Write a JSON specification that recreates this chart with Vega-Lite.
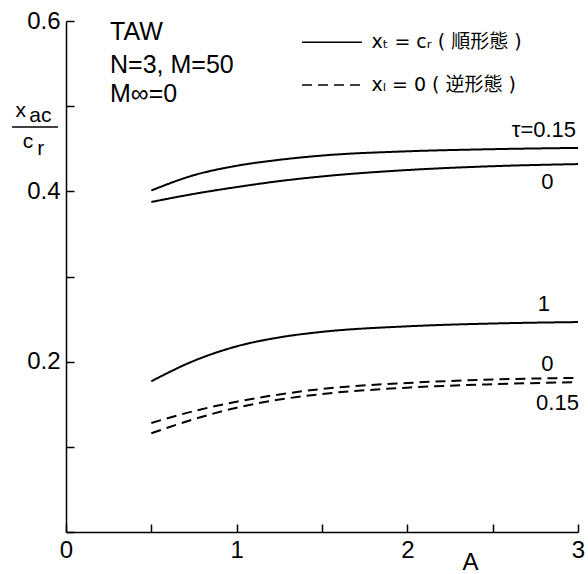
{
  "$schema": "https://vega.github.io/schema/vega-lite/v6.json",
  "width": 512,
  "height": 511,
  "autosize": "none",
  "padding": {"left": 66, "top": 21, "right": 10, "bottom": 42},
  "background": "white",
  "config": {
    "view": {"stroke": null},
    "font": "Liberation Sans",
    "axis": {"grid": false, "domainColor": "black", "tickColor": "black", "labelColor": "black", "domainWidth": 1.5, "tickWidth": 1.5}
  },
  "datasets": {
    "curves": [
      {"A": 0.5, "v": 0.401, "series": "s015", "kind": "順形態"},
      {"A": 0.75, "v": 0.419, "series": "s015", "kind": "順形態"},
      {"A": 1.0, "v": 0.430, "series": "s015", "kind": "順形態"},
      {"A": 1.25, "v": 0.437, "series": "s015", "kind": "順形態"},
      {"A": 1.5, "v": 0.442, "series": "s015", "kind": "順形態"},
      {"A": 2.0, "v": 0.447, "series": "s015", "kind": "順形態"},
      {"A": 2.5, "v": 0.4495, "series": "s015", "kind": "順形態"},
      {"A": 3.0, "v": 0.451, "series": "s015", "kind": "順形態"},
      {"A": 0.5, "v": 0.3875, "series": "s0", "kind": "順形態"},
      {"A": 0.75, "v": 0.397, "series": "s0", "kind": "順形態"},
      {"A": 1.0, "v": 0.405, "series": "s0", "kind": "順形態"},
      {"A": 1.25, "v": 0.412, "series": "s0", "kind": "順形態"},
      {"A": 1.5, "v": 0.4175, "series": "s0", "kind": "順形態"},
      {"A": 2.0, "v": 0.425, "series": "s0", "kind": "順形態"},
      {"A": 2.5, "v": 0.4295, "series": "s0", "kind": "順形態"},
      {"A": 3.0, "v": 0.432, "series": "s0", "kind": "順形態"},
      {"A": 0.5, "v": 0.177, "series": "s1", "kind": "順形態"},
      {"A": 0.75, "v": 0.201, "series": "s1", "kind": "順形態"},
      {"A": 1.0, "v": 0.218, "series": "s1", "kind": "順形態"},
      {"A": 1.25, "v": 0.2285, "series": "s1", "kind": "順形態"},
      {"A": 1.5, "v": 0.235, "series": "s1", "kind": "順形態"},
      {"A": 2.0, "v": 0.2415, "series": "s1", "kind": "順形態"},
      {"A": 2.5, "v": 0.2448, "series": "s1", "kind": "順形態"},
      {"A": 3.0, "v": 0.2465, "series": "s1", "kind": "順形態"},
      {"A": 0.5, "v": 0.128, "series": "d0", "kind": "逆形態"},
      {"A": 0.75, "v": 0.142, "series": "d0", "kind": "逆形態"},
      {"A": 1.0, "v": 0.153, "series": "d0", "kind": "逆形態"},
      {"A": 1.25, "v": 0.1615, "series": "d0", "kind": "逆形態"},
      {"A": 1.5, "v": 0.168, "series": "d0", "kind": "逆形態"},
      {"A": 2.0, "v": 0.175, "series": "d0", "kind": "逆形態"},
      {"A": 2.5, "v": 0.179, "series": "d0", "kind": "逆形態"},
      {"A": 3.0, "v": 0.181, "series": "d0", "kind": "逆形態"},
      {"A": 0.5, "v": 0.116, "series": "d015", "kind": "逆形態"},
      {"A": 0.75, "v": 0.1325, "series": "d015", "kind": "逆形態"},
      {"A": 1.0, "v": 0.146, "series": "d015", "kind": "逆形態"},
      {"A": 1.25, "v": 0.1555, "series": "d015", "kind": "逆形態"},
      {"A": 1.5, "v": 0.162, "series": "d015", "kind": "逆形態"},
      {"A": 2.0, "v": 0.1695, "series": "d015", "kind": "逆形態"},
      {"A": 2.5, "v": 0.1735, "series": "d015", "kind": "逆形態"},
      {"A": 3.0, "v": 0.176, "series": "d015", "kind": "逆形態"}
    ],
    "legendLines": [
      {"A": 1.383, "A2": 1.734, "v": 0.575, "kind": "順形態"},
      {"A": 1.383, "A2": 1.734, "v": 0.525, "kind": "逆形態"}
    ],
    "legendText": [
      {"A": 1.79, "v": 0.575, "text": "xₜ = cᵣ ( 順形態 )"},
      {"A": 1.79, "v": 0.525, "text": "xₗ = 0 ( 逆形態 )"}
    ],
    "notes": [
      {"A": 0.258, "v": 0.587, "text": "TAW"},
      {"A": 0.258, "v": 0.548, "text": "N=3, M=50"},
      {"A": 0.258, "v": 0.514, "text": "M∞=0"}
    ],
    "curveLabels": [
      {"A": 2.80, "v": 0.472, "text": "τ=0.15"},
      {"A": 2.82, "v": 0.411, "text": "0"},
      {"A": 2.80, "v": 0.268, "text": "1"},
      {"A": 2.82, "v": 0.197, "text": "0"},
      {"A": 2.88, "v": 0.152, "text": "0.15"}
    ],
    "axisTitleMain": [
      {"A": 2.37, "v": -0.036, "text": "A"}
    ],
    "axisTitleSub": [
      {"A": -0.265, "v": 0.494, "text": "x"},
      {"A": -0.15, "v": 0.488, "text": "ac"},
      {"A": -0.222, "v": 0.458, "text": "c"},
      {"A": -0.148, "v": 0.450, "text": "r"}
    ],
    "frac": [
      {"A": -0.316, "A2": -0.047, "v": 0.4755}
    ]
  },
  "layer": [
    {
      "data": {"name": "curves"},
      "mark": {"type": "line", "interpolate": "monotone", "strokeWidth": 2, "color": "black"},
      "encoding": {
        "x": {"field": "A", "type": "quantitative", "scale": {"domain": [0, 3], "nice": false},
          "axis": {"values": [0, 0.5, 1, 1.5, 2, 2.5, 3], "labelExpr": "datum.value % 1 == 0 ? format(datum.value, 'd') : ''", "title": null, "tickSize": -8, "labelPadding": 14, "labelFontSize": 24, "labelFont": "Liberation Sans", "labelOverlap": false, "labelBound": false, "labelFlush": false}},
        "y": {"field": "v", "type": "quantitative", "scale": {"domain": [0, 0.6], "nice": false},
          "axis": {"values": [0, 0.1, 0.2, 0.3, 0.4, 0.5, 0.6], "labelExpr": "(round(datum.value * 10) % 2 == 0 && datum.value > 0) ? format(datum.value, '.1f') : ''", "title": null, "tickSize": -8, "labelPadding": 14, "labelFontSize": 24, "labelFont": "Liberation Sans", "labelOverlap": false, "labelBound": false, "labelFlush": false}},
        "detail": {"field": "series"},
        "strokeDash": {"field": "kind", "type": "nominal", "scale": {"domain": ["順形態", "逆形態"], "range": [[1, 0], [10, 6]]}, "legend": null}
      }
    },
    {
      "data": {"name": "legendLines"},
      "mark": {"type": "rule", "strokeWidth": 1.5, "color": "black"},
      "encoding": {
        "x": {"field": "A", "type": "quantitative"},
        "x2": {"field": "A2"},
        "y": {"field": "v", "type": "quantitative"},
        "strokeDash": {"field": "kind", "type": "nominal", "scale": {"domain": ["順形態", "逆形態"], "range": [[1, 0], [10, 6]]}, "legend": null}
      }
    },
    {
      "data": {"name": "frac"},
      "mark": {"type": "rule", "strokeWidth": 1.5, "color": "black"},
      "encoding": {
        "x": {"field": "A", "type": "quantitative"},
        "x2": {"field": "A2"},
        "y": {"field": "v", "type": "quantitative"}
      }
    },
    {
      "data": {"name": "legendText"},
      "mark": {"type": "text", "align": "left", "baseline": "middle", "fontSize": 19, "font": "DejaVu Sans, Noto Sans CJK JP", "color": "black"},
      "encoding": {
        "x": {"field": "A", "type": "quantitative"},
        "y": {"field": "v", "type": "quantitative"},
        "text": {"field": "text"}
      }
    },
    {
      "data": {"name": "notes"},
      "mark": {"type": "text", "align": "left", "baseline": "middle", "fontSize": 25, "font": "Liberation Sans", "color": "black"},
      "encoding": {
        "x": {"field": "A", "type": "quantitative"},
        "y": {"field": "v", "type": "quantitative"},
        "text": {"field": "text"}
      }
    },
    {
      "data": {"name": "curveLabels"},
      "mark": {"type": "text", "align": "center", "baseline": "middle", "fontSize": 22, "font": "Liberation Sans", "color": "black"},
      "encoding": {
        "x": {"field": "A", "type": "quantitative"},
        "y": {"field": "v", "type": "quantitative"},
        "text": {"field": "text"}
      }
    },
    {
      "data": {"name": "axisTitleMain"},
      "mark": {"type": "text", "align": "center", "baseline": "middle", "fontSize": 24, "font": "Liberation Sans", "color": "black"},
      "encoding": {
        "x": {"field": "A", "type": "quantitative"},
        "y": {"field": "v", "type": "quantitative"},
        "text": {"field": "text"}
      }
    },
    {
      "data": {"name": "axisTitleSub"},
      "mark": {"type": "text", "align": "center", "baseline": "middle", "fontSize": 21, "font": "Liberation Sans", "color": "black"},
      "encoding": {
        "x": {"field": "A", "type": "quantitative"},
        "y": {"field": "v", "type": "quantitative"},
        "text": {"field": "text"}
      }
    }
  ]
}
